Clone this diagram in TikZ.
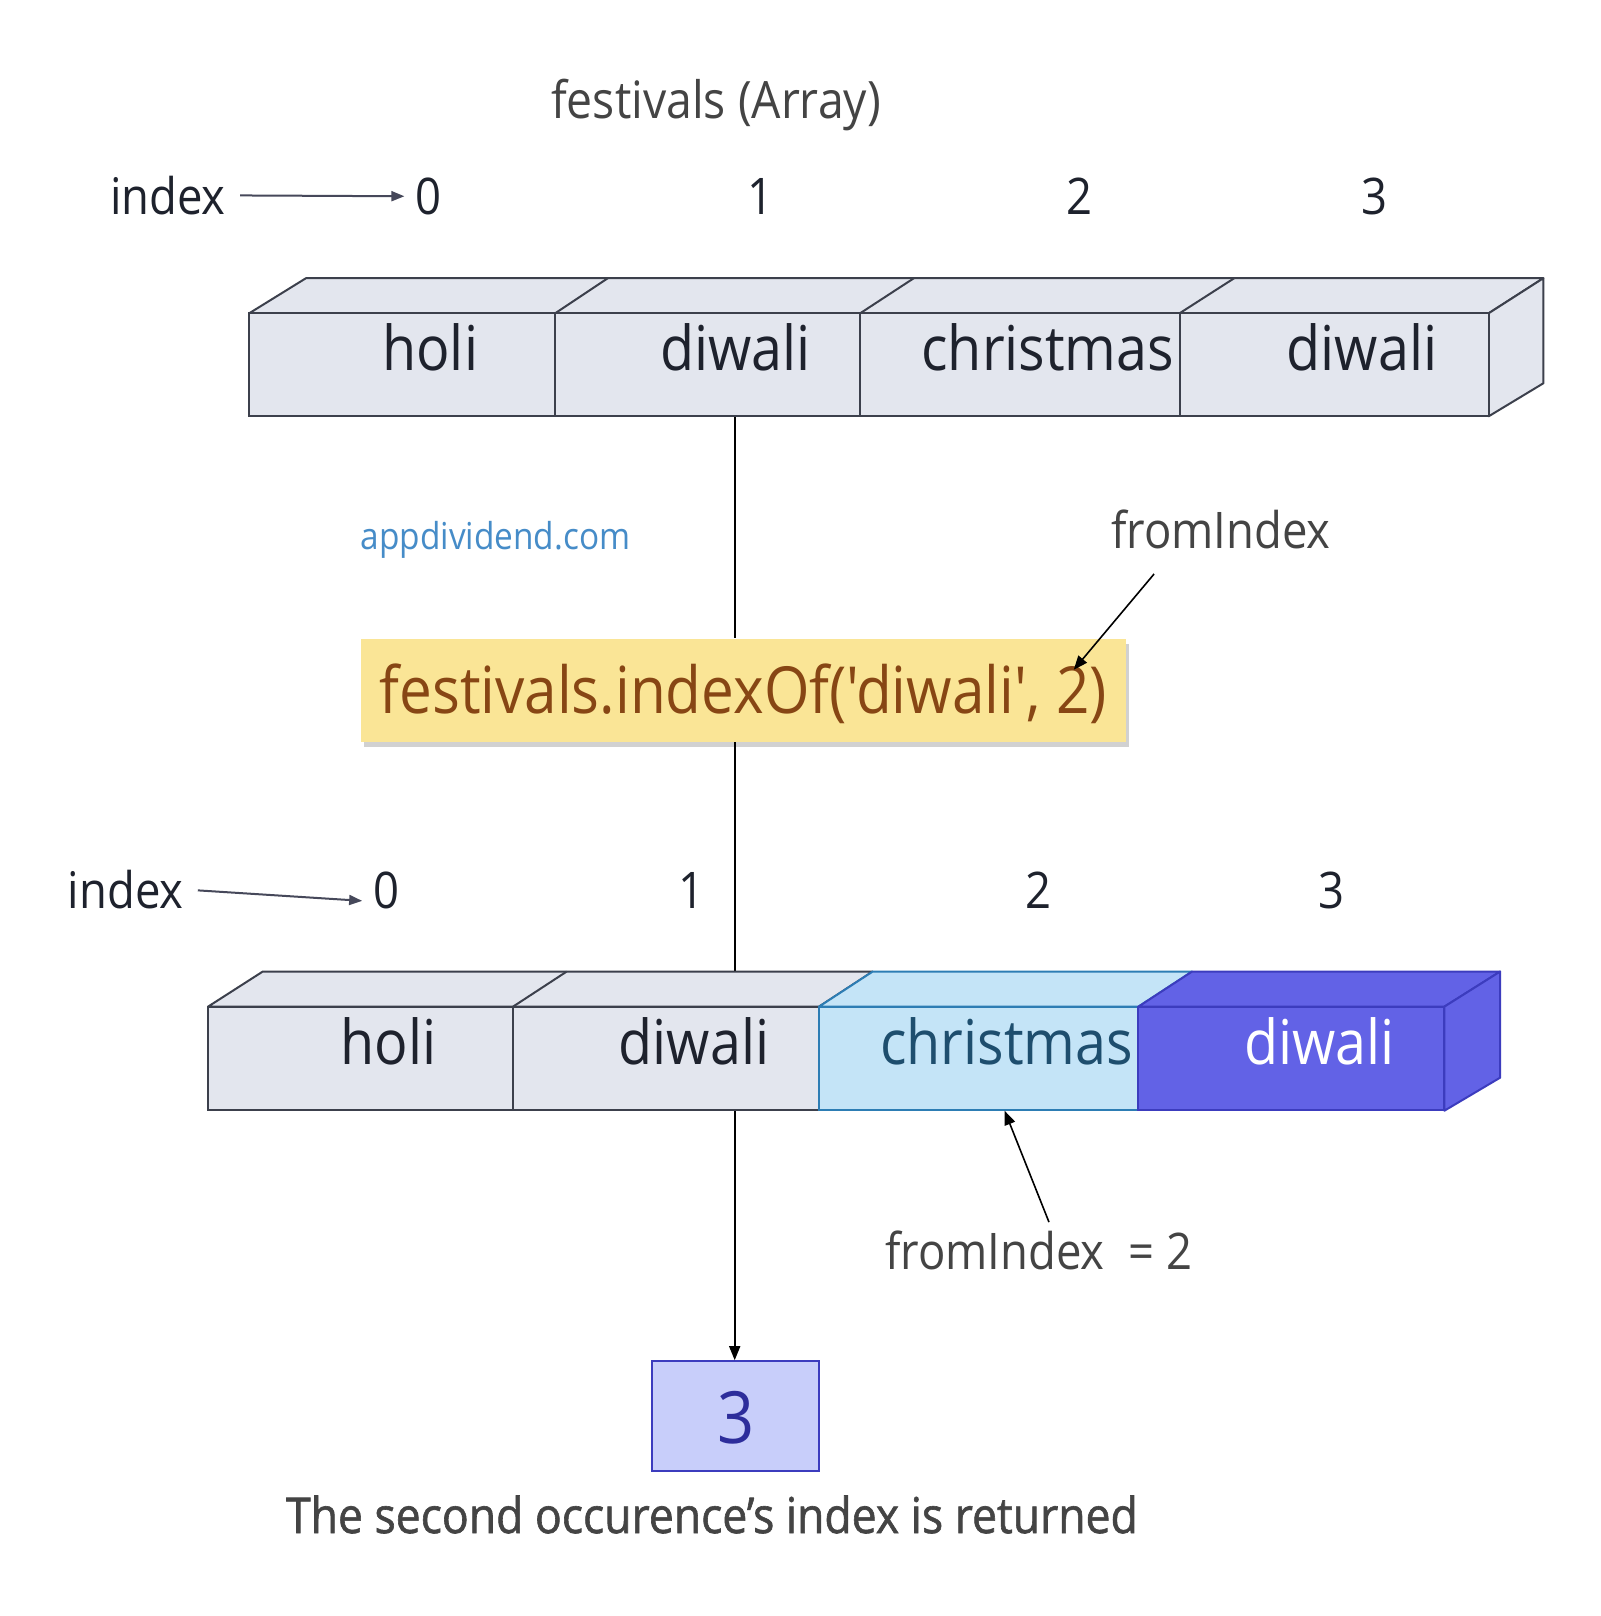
\documentclass[tikz,border=0pt]{standalone}
\usepackage{fontspec}
\setmainfont{Open Sans}[FakeStretch=0.9]
\newfontfamily\codefont{Open Sans}[FakeStretch=0.9, Ligatures=TeXOff]
\newfontfamily\capfont{Open Sans}[FakeStretch=0.9, FakeBold=1.2]
\usetikzlibrary{arrows.meta,calc,shadows}
\definecolor{cellfill}{RGB}{227,230,238}
\definecolor{cellline}{RGB}{60,64,76}
\definecolor{celltext}{RGB}{30,34,45}
\definecolor{bluefill}{RGB}{196,228,247}
\definecolor{blueline}{RGB}{45,125,180}
\definecolor{bluetext}{RGB}{30,78,110}
\definecolor{purfill}{RGB}{98,98,230}
\definecolor{purline}{RGB}{60,60,190}
\definecolor{yellowfill}{RGB}{250,229,150}
\definecolor{codetext}{RGB}{135,70,20}
\definecolor{resfill}{RGB}{200,206,250}
\definecolor{resline}{RGB}{60,60,190}
\definecolor{restext}{RGB}{45,45,155}
\definecolor{graytext}{RGB}{68,68,68}
\definecolor{linkblue}{RGB}{70,140,200}
\definecolor{arrowgray}{RGB}{70,72,90}
\newcommand\fsz[1]{\fontsize{#1}{#1}\selectfont}
\begin{document}
\begin{tikzpicture}[x=0.5pt,y=-0.5pt,scale=1.0303,transform shape,
  cell/.style={draw=cellline, fill=cellfill, line width=1pt, minimum height=50pt,
    inner sep=0pt, font=\fsz{30pt}, text=celltext, text height=18pt, text depth=12pt},
  bluecell/.style={cell, draw=blueline, fill=bluefill, text=bluetext},
  purcell/.style={cell, draw=purline, fill=purfill, text=white},
  face/.style={draw=cellline, fill=cellfill, line width=1pt, line join=round},
  lbl/.style={anchor=base, font=\fsz{24.5pt}, text=celltext},
  glbl/.style={anchor=base, font=\fsz{24.5pt}, text=graytext},
  idxarrow/.style={draw=arrowgray, line width=1pt, shorten <=3.5pt, shorten >=2pt,
    -{Triangle[length=6.5pt,width=5pt]}},
  conn/.style={draw=black, line width=0.8pt},
  connarrow/.style={conn, -{Triangle[length=7pt,width=5.5pt]}},
  codebox/.style={fill=yellowfill, minimum width=371.5pt, minimum height=50pt, inner sep=0pt,
    font=\codefont\fsz{31.5pt}, text=codetext, text height=26pt, text depth=3pt,
    drop shadow={shadow xshift=1.5pt, shadow yshift=-2.5pt, opacity=0.18, fill=black}},
  resbox/.style={draw=resline, fill=resfill, line width=1pt, minimum width=81pt, minimum height=53.5pt,
    inner sep=0pt, font=\fsz{35pt}, text=restext, text height=28pt, text depth=1.5pt}
]
\fill[white] (0,0) rectangle (1553,1568.5);
\useasboundingbox (0,0) rectangle (1553,1568.5);

% title
\node[glbl, font=\fsz{25pt}] (title) at (695,115) {festivals (Array)};

% top index labels
\node[lbl] (i1) at (163,208) {index};
\node[lbl] (d0) at (416,208) {0};
\node[lbl] (d1) at (738,208) {1};
\node[lbl] (d2) at (1048,208) {2};
\node[lbl] (d3) at (1334,208) {3};
\draw[idxarrow] (i1.east) -- (d0.west);

% top array: top face and side
\draw[face] (242,304) -- (297,270) -- (1498,270) -- (1445,304) -- cycle;
\draw[face] (1445,304) -- (1498,270) -- (1498,372) -- (1445,404) -- cycle;
\draw[face] (539,304) -- (590,270);
\draw[face] (835,304) -- (887,270);
\draw[face] (1145,304) -- (1198,270);
\node[cell, minimum width=148.5pt] (t0) at (390.5,354) {\hspace*{27pt}holi};
\node[cell, minimum width=148pt] (t1) at (687,354) {\hspace*{27pt}diwali};
\node[cell, minimum width=155pt] (t2) at (990,354) {\hspace*{27pt}christmas};
\node[cell, minimum width=150pt] (t3) at (1295,354) {\hspace*{27pt}diwali};

% watermark
\node[anchor=base, font=\fsz{18pt}, text=linkblue] (app) at (481,533) {appdividend.com};

% fromIndex (top)
\node[glbl] (fromtop) at (1185,532) {fromIndex};

% code box
\node[codebox] (q) at (721.5,670) {festivals.indexOf('diwali', 2)};
\coordinate (fa) at (1120,557);
\coordinate (fb) at (1042,650);
\draw[connarrow] (fa) -- (fb);

% vertical line helper
\coordinate (vx) at (713,0);
\coordinate (btop) at (713,943);
\draw[conn] (vx |- t1.south) -- (vx |- q.north);
\draw[conn] (vx |- q.south) -- (btop);

% bottom index labels
\node[lbl] (i2) at (122,882) {index};
\node[lbl] (e0) at (375,882) {0};
\node[lbl] (e1) at (671,882) {1};
\node[lbl] (e2) at (1008,882) {2};
\node[lbl] (e3) at (1292,882) {3};
\draw[idxarrow] (i2.east) -- ($(e0.west)+(0,10)$);

% bottom array
\draw[face] (202,977) -- (255,943) -- (847,943) -- (795,977) -- cycle;
\draw[face] (498,977) -- (550,943);
\draw[face, draw=blueline, fill=bluefill] (795,977) -- (847,943) -- (1157,943) -- (1105,977) -- cycle;
\draw[face, draw=purline, fill=purfill] (1105,977) -- (1157,943) -- (1456,943) -- (1402,977) -- cycle;
\draw[face, draw=purline, fill=purfill] (1402,977) -- (1456,943) -- (1456,1046) -- (1402,1078) -- cycle;
\node[cell, minimum width=148pt] (b0) at (350,1027.5) {\hspace*{27pt}holi};
\node[cell, minimum width=148.5pt] (b1) at (646.5,1027.5) {\hspace*{27pt}diwali};
\node[bluecell, minimum width=155pt] (b2) at (950,1027.5) {\hspace*{27pt}christmas};
\node[purcell, minimum width=148.5pt] (b3) at (1253.5,1027.5) {\hspace*{27pt}diwali};

% fromIndex = 2
\node[glbl] (frombot) at (1008,1232) {fromIndex\ \ = 2};
\coordinate (fc) at (1018,1186);
\coordinate (fd) at (975,1078);
\draw[connarrow] (fc) -- (fd);

% result
\node[resbox] (res) at (714,1374.5) {3};
\draw[connarrow] (vx |- b1.south) -- (vx |- res.north);

% caption
\node[anchor=base, font=\capfont\fsz{24pt}, text=graytext] (cap) at (691,1488) {The second occurence’s index is returned};
\end{tikzpicture}
\end{document}
